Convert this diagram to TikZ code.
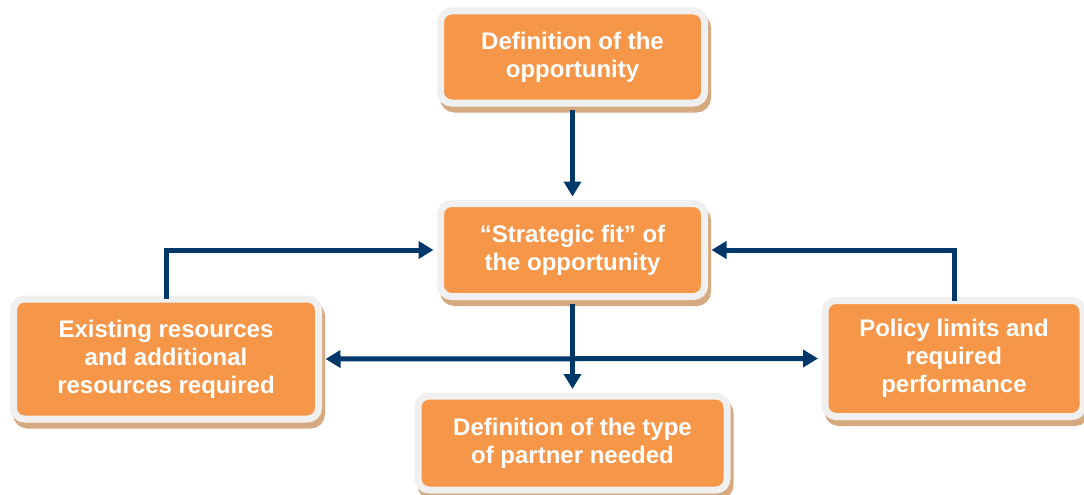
\documentclass[tikz,border=0pt]{standalone}
\usepackage{fontspec}
\setmainfont{Liberation Sans}
\usetikzlibrary{arrows.meta,shadows}
\definecolor{boxorange}{RGB}{246,150,72}
\definecolor{framegray}{RGB}{240,240,240}
\definecolor{navy}{RGB}{0,56,106}
\definecolor{shadowbrown}{RGB}{214,170,128}
\begin{document}
\begin{tikzpicture}[x=1pt,y=-1pt]
\tikzset{
  box/.style={rounded corners=11pt, fill=boxorange, draw=framegray, line width=7pt,
    text=white, font=\fontsize{24}{28}\selectfont\bfseries, align=center, inner sep=0pt,
    drop shadow={shadow xshift=3pt, shadow yshift=-6pt, fill=shadowbrown, draw=shadowbrown,
      line width=7pt, opacity=1}},
  conn/.style={draw=navy, line width=5pt, -{Triangle[length=15pt,width=17pt]}},
  conn2/.style={draw=navy, line width=5pt, {Triangle[length=15pt,width=17pt]}-{Triangle[length=15pt,width=17pt]}}
}
\useasboundingbox (0,0) rectangle (1084,495);
\fill[white] (0,0) rectangle (1084,495);
\node[box, minimum width=264pt, minimum height=92pt] (def) at (572.5,57) {Definition of the\\opportunity};
\node[box, minimum width=264pt, minimum height=93pt] (fit) at (572.5,250) {“Strategic fit” of\\the opportunity};
\node[box, minimum width=305pt, minimum height=120pt] (res) at (166,359) {Existing resources\\and additional\\resources required};
\node[box, minimum width=258pt, minimum height=116pt] (pol) at (954,358.5) {Policy limits and\\required\\performance};
\node[box, minimum width=309pt, minimum height=94pt] (typ) at (572.5,443) {Definition of the type\\of partner needed};
\draw[conn] (def.south) ++(0,3.5) -- ([yshift=3.5pt]fit.north);
\draw[conn] (fit.south) ++(0,3.5) -- ([yshift=3.5pt]typ.north);
\draw[conn2] ([xshift=3.5pt]res.east) -- ([xshift=-3.5pt]pol.west);
\draw[conn] ([yshift=-3.5pt]res.north) |- ([xshift=-3.5pt]fit.west);
\draw[conn] ([yshift=-3.5pt]pol.north) |- ([xshift=3.5pt]fit.east);
\end{tikzpicture}
\end{document}
